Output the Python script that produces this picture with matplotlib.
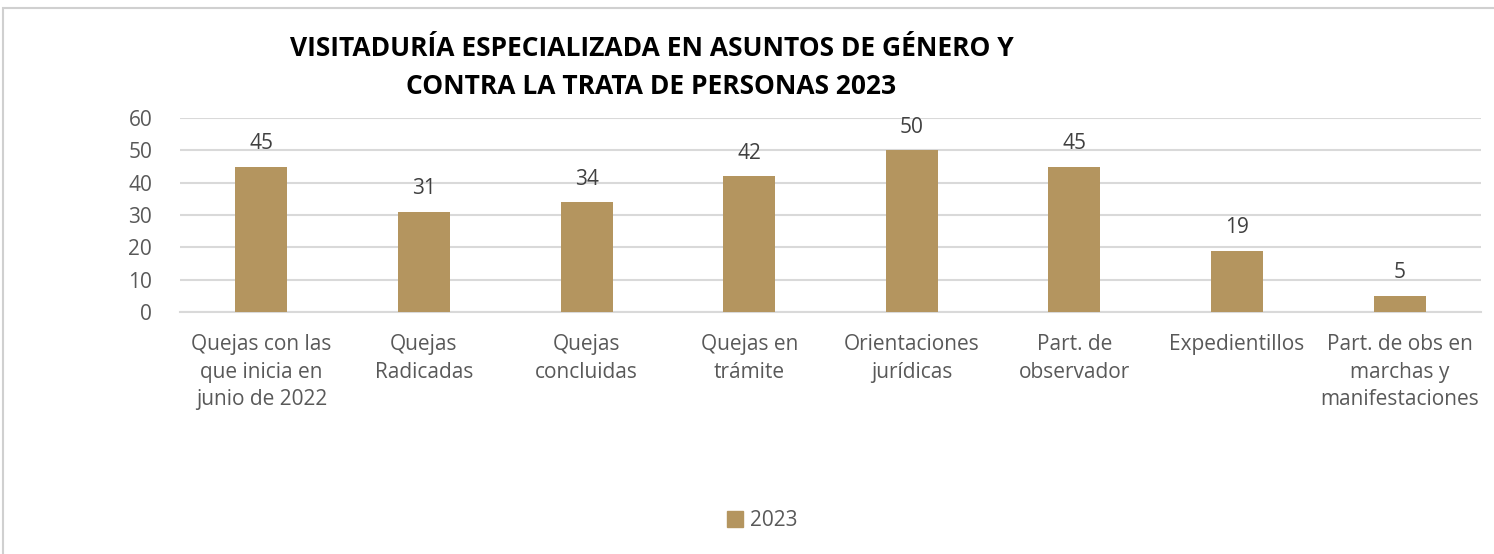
import matplotlib
matplotlib.use("Agg")
import matplotlib.pyplot as plt
from matplotlib.patches import Rectangle, Patch

categories = ["Quejas con las\nque inicia en\njunio de 2022", "Quejas\nRadicadas", "Quejas\nconcluidas",
              "Quejas en\ntrámite", "Orientaciones\njurídicas", "Part. de\nobservador",
              "Expedientillos", "Part. de obs en\nmarchas y\nmanifestaciones"]
values = [45, 31, 34, 42, 50, 45, 19, 5]
series_name = "2023"
yticks = [0, 10, 20, 30, 40, 50, 60]
title = "VISITADURÍA ESPECIALIZADA EN ASUNTOS DE GÉNERO Y\nCONTRA LA TRATA DE PERSONAS 2023"

bar_color = "#B4955F"
text_color = "#595959"
font = ["Open Sans", "DejaVu Sans"]

fig = plt.figure(figsize=(14.94, 5.54), dpi=100)
fig.patch.set_facecolor("white")
# outer chart border
fig.add_artist(Rectangle((0.002, -0.01), 1.5, 0.995, transform=fig.transFigure,
                         fill=False, edgecolor="#D0D0D0", linewidth=1.5))

ax = fig.add_axes([0.1205, 0.4368, 0.8708, 0.3502])
x = range(len(categories))
bars = ax.bar(x, values, width=0.32, color=bar_color, zorder=3, label=series_name)
ax.set_xlim(-0.5, len(categories) - 0.5)
ax.set_ylim(0, 60)
ax.set_yticks(yticks)
ax.yaxis.grid(True, color="#D9D9D9", linewidth=1.5, zorder=0)
for s in ["top", "right", "left"]:
    ax.spines[s].set_visible(False)
ax.spines["bottom"].set_color("#D9D9D9")
ax.spines["bottom"].set_linewidth(1.5)
ax.tick_params(axis="both", length=0, labelsize=15, labelcolor=text_color)
ax.tick_params(axis="y", pad=20)
ax.tick_params(axis="x", pad=16)
ax.set_xticks(list(x))
ax.set_xticklabels(categories, fontfamily=font, linespacing=1.4)
for lbl in ax.get_yticklabels():
    lbl.set_fontfamily(font)

for b, v in zip(bars, values):
    ax.annotate(str(v), (b.get_x() + b.get_width() / 2, v), xytext=(0, 9),
                textcoords="offset points", ha="center", va="bottom",
                fontsize=15, color="#404040", fontfamily=font)

fig.text(0.436, 0.878, title, ha="center", va="center", fontsize=19, fontweight="bold",
         fontfamily=["Liberation Sans Narrow", "Open Sans", "DejaVu Sans"], linespacing=1.55,
         color="black")

leg = fig.legend(handles=[Patch(color=bar_color, label=series_name)], loc="center",
                 bbox_to_anchor=(0.51, 0.06), frameon=False, handlelength=0.8, handleheight=0.8,
                 handletextpad=0.3, prop={"family": font, "size": 15})
for t in leg.get_texts():
    t.set_color(text_color)

fig.savefig("out.png", dpi=100)
